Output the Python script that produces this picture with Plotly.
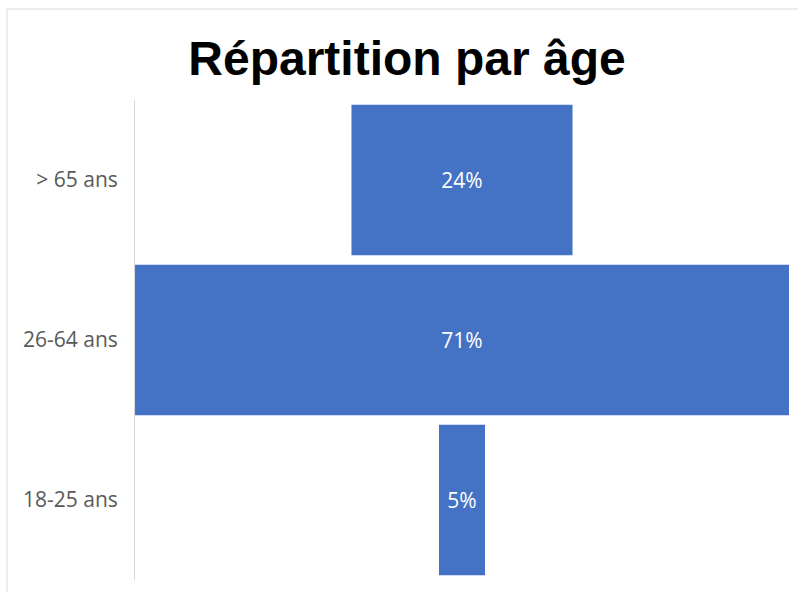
import plotly.graph_objects as go

categories = ["> 65 ans", "26-64 ans", "18-25 ans"]
values = [24, 71, 5]

fig = go.Figure(go.Funnel(
    y=categories,
    x=values,
    texttemplate="%{x}%",
    textposition="inside",
    insidetextanchor="middle",
    textfont=dict(color="white", size=21, family="Open Sans"),
    constraintext="none",
    marker=dict(color="#4472C4", line=dict(width=0)),
    connector=dict(visible=False),
    hoverinfo="y+x",
))

L, R, T, B = 135, 9, 100, 12
W, H = 798, 592
pw, ph = W - L - R, H - T - B

def px_x(p):
    return (p - L) / pw

def px_y(p):
    return (H - B - p) / ph

fig.update_layout(
    width=W, height=H,
    margin=dict(l=L, r=R, t=T, b=B),
    paper_bgcolor="white",
    plot_bgcolor="white",
    funnelgap=0.06,
    showlegend=False,
    uniformtext=dict(mode=False),
    title=dict(
        text="<b>Répartition par âge</b>",
        x=px_x(407), xref="paper", xanchor="center",
        y=1 - 58 / H, yanchor="middle",
        font=dict(family="Liberation Sans", size=48, color="black"),
    ),
    xaxis=dict(visible=False, range=[-35.5, 35.5], fixedrange=True),
    yaxis=dict(
        showline=True, linecolor="#d9d9d9", linewidth=1,
        showgrid=False, zeroline=False,
        tickfont=dict(family="Open Sans", size=21, color="#595959"),
        ticks="", ticklabelstandoff=12,
    ),
    shapes=[
        dict(type="line", xref="paper", yref="paper",
             x0=px_x(7), x1=px_x(800), y0=px_y(9), y1=px_y(9),
             line=dict(color="#d9d9d9", width=1)),
        dict(type="line", xref="paper", yref="paper",
             x0=px_x(7), x1=px_x(7), y0=px_y(9), y1=px_y(600),
             line=dict(color="#d9d9d9", width=1)),
    ],
)

fig.write_html("out.html")
